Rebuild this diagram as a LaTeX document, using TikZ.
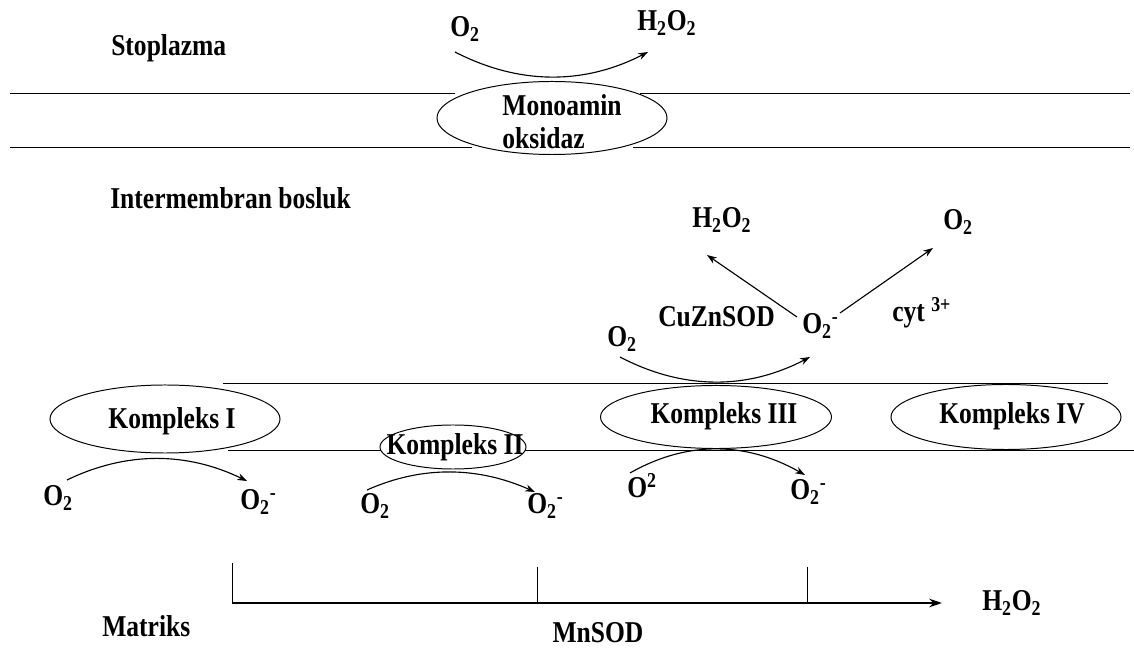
\documentclass[tikz,border=0pt]{standalone}
\usepackage{fontspec}
\setmainfont{Liberation Serif}[FakeStretch=0.845]
\usepackage{tikz}
\usetikzlibrary{shapes.geometric,arrows.meta}

\begin{document}
\begin{tikzpicture}[x=0.025cm,y=-0.025cm,>={Stealth[length=7pt,width=5pt]},
  font=\fontsize{21.5}{23.4}\selectfont\bfseries,
  every node/.style={inner sep=0pt},
  lbl/.style={anchor=base west},
  cplx/.style={ellipse,draw,fill=white,line width=0.7pt},
  memb/.style={line width=0.7pt},
  rxn/.style={->,line width=0.8pt}]
\useasboundingbox (0,0) rectangle (1134,655);
% membranes
\draw [memb] (10,93)--(455,93) (640,93)--(1130,93);
\draw [memb] (10,147)--(472,147) (633,147)--(1130,147);
\draw [memb] (223,383)--(1108,383);
\draw [memb] (228,450)--(1134,450);
% enzymes
\node [cplx,minimum width=5.75cm,minimum height=1.825cm] (mao) at (552,118) {};
\node [align=left] (maot) at (562,122) {Monoamin\\oksidaz};
\node [cplx,minimum width=5.75cm,minimum height=1.7cm] (k1) at (165,419) {};
\node [anchor=base] (k1t) at (172,429) {Kompleks I};
\node [cplx,minimum width=3.65cm,minimum height=1.1cm] (k2) at (453,447) {};
\node [anchor=base] (k2t) at (455,455) {Kompleks II};
\node [cplx,minimum width=5.775cm,minimum height=1.575cm] (k3) at (716,417) {};
\node [anchor=base] (k3t) at (724,424) {Kompleks III};
\node [cplx,minimum width=5.75cm,minimum height=1.625cm] (k4) at (1006,417) {};
\node [anchor=base] (k4t) at (1012,424) {Kompleks IV};
% compartments
\node [lbl] (stop) at (111,56) {Stoplazma};
\node [lbl] (imb) at (110,209) {Intermembran bosluk};
\node [lbl] (mtx) at (102,637) {Matriks};
% cytoplasm side
\node [lbl] (o2top) at (450,37) {O\textsubscript{2}};
\node [lbl] (h2o2top) at (637,31) {H\textsubscript{2}O\textsubscript{2}};
\coordinate (maoa) at (455,52);
\coordinate (maob) at (648,52);
\draw [rxn] (maoa) .. controls +(64,33) and +(-64,33) .. (maob);
% intermembrane space
\node [lbl] (h2o2ims) at (692,228) {H\textsubscript{2}O\textsubscript{2}};
\node [lbl] (o2ims) at (943,230) {O\textsubscript{2}};
\node [lbl] (cuzn) at (658,327) {CuZnSOD};
\node [lbl] (soims) at (802,334) {O\textsubscript{2}\textsuperscript{-}};
\node [lbl] (cyt) at (892,322) {cyt \textsuperscript{3+}};
\node [lbl] (o2k3a) at (607,347) {O\textsubscript{2}};
\coordinate (sodl) at (797,317);
\coordinate (sodle) at (707,255);
\coordinate (cytr) at (840,313);
\coordinate (cytre) at (933,248);
\draw [rxn] (sodl) -- (sodle);
\draw [rxn] (cytr) -- (cytre);
\coordinate (k3a) at (620,357);
\coordinate (k3b) at (810,357);
\draw [rxn] (k3a) .. controls +(63,33) and +(-63,33) .. (k3b);
% matrix side
\node [lbl] (o2k1) at (43,506) {O\textsubscript{2}};
\node [lbl] (sok1) at (240,510) {O\textsubscript{2}\textsuperscript{-}};
\node [lbl] (o2k2) at (360,514) {O\textsubscript{2}};
\node [lbl] (sok2) at (527,514) {O\textsubscript{2}\textsuperscript{-}};
\node [lbl] (o2k3) at (627,498) {O\textsuperscript{2}};
\node [lbl] (sok3) at (790,500) {O\textsubscript{2}\textsuperscript{-}};
\coordinate (k1a) at (67,480);
\coordinate (k1b) at (247,481);
\coordinate (k2a) at (367,490);
\coordinate (k2b) at (535,492);
\coordinate (k3c) at (630,473);
\coordinate (k3d) at (805,475);
\draw [rxn] (k1a) .. controls +(60,-29) and +(-60,-29) .. (k1b);
\draw [rxn] (k2a) .. controls +(56,-25) and +(-56,-25) .. (k2b);
\draw [rxn] (k3c) .. controls +(58,-33) and +(-58,-33) .. (k3d);
% MnSOD
\coordinate (t1) at (232,563);
\coordinate (t2) at (537,567);
\coordinate (t3) at (807,567);
\coordinate (mna) at (232,603);
\coordinate (mnb) at (942,603);
\draw [line width=0.6pt] (t1) -- (mna) (t2) -- (537,603) (t3) -- (807,603);
\draw [->,>={Stealth[length=9pt,width=6pt]},line width=1.4pt] (mna) -- (mnb);
\node [lbl] (h2o2mx) at (982,611) {H\textsubscript{2}O\textsubscript{2}};
\node [anchor=base] (mnsod) at (598,643) {MnSOD};
\end{tikzpicture}
\end{document}
